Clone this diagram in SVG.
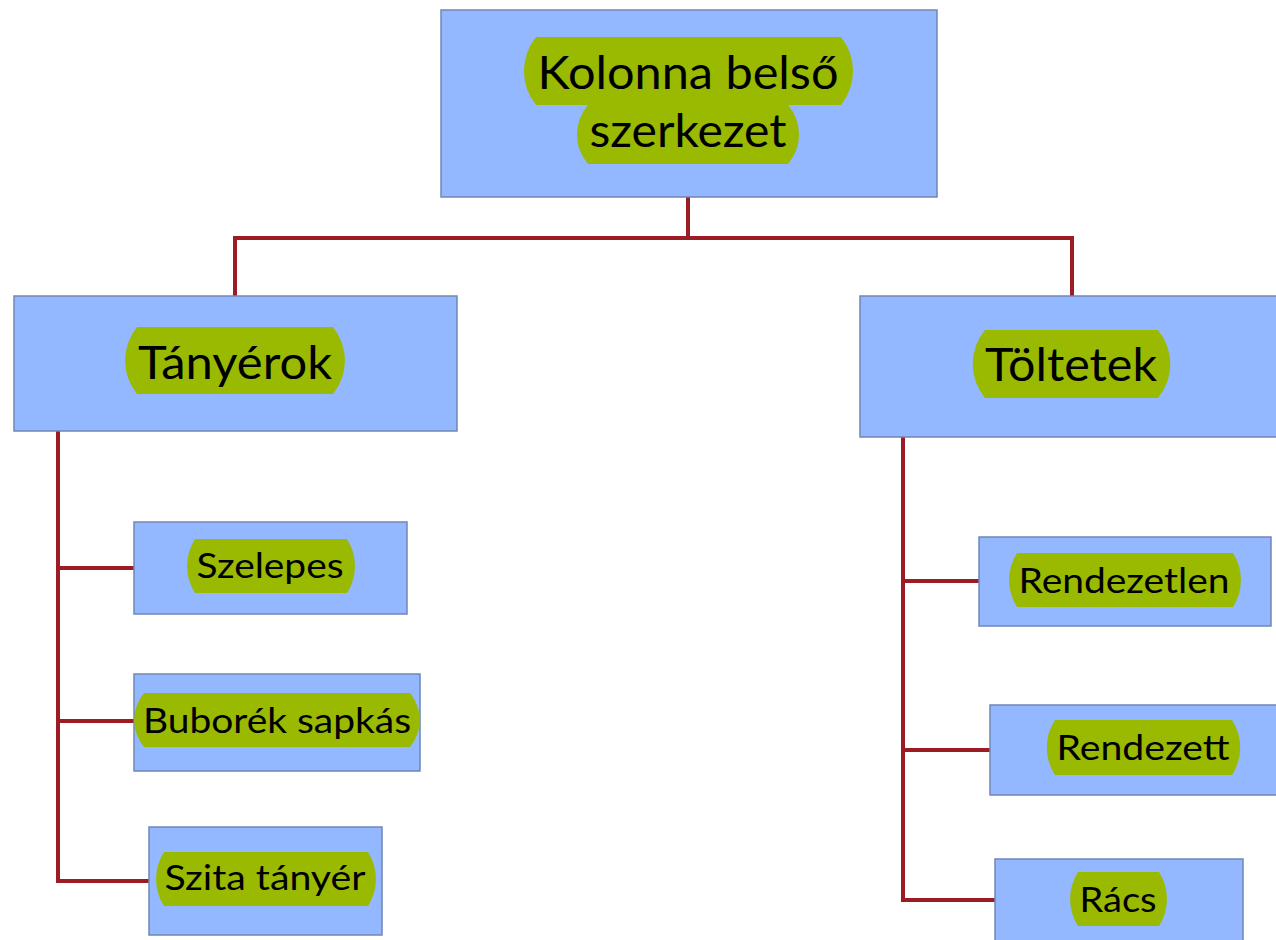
<svg xmlns="http://www.w3.org/2000/svg" width="1276" height="940" viewBox="0 0 1276 940">
<style>
.box{fill:#94B8FF;stroke:#6F86B6;stroke-width:1.5}
.pill{fill:#99BA00}
.t{font-family:Lato,"Liberation Sans",sans-serif;fill:#000;text-anchor:middle}
.big{font-size:47px}
.sm{font-size:35px}
.c{fill:none;stroke:#9B1C24;stroke-width:4;stroke-linecap:square}
</style>
<rect width="1276" height="940" fill="#fff"/>
<g id="connectors">
<path class="c" d="M688,197 V238 M235,238 H1072 M235,238 V296 M1072,238 V296"/>
<path class="c" d="M58,431 V881 M58,568 H134 M58,721 H134 M58,881 H149"/>
<path class="c" d="M903,437 V900 M903,581 H979 M903,750 H990 M903,900 H995"/>
</g>
<g id="root">
<rect class="box" x="441" y="10" width="496" height="187"/>
<path class="pill" d="M536,37 H841 A54 54 0 0 1 841,105 H536 A54 54 0 0 1 536,37 Z"/>
<path class="pill" d="M588,105 H788 A45 45 0 0 1 788,164 H588 A45 45 0 0 1 588,105 Z"/>
<text class="t big" x="688" y="89" textLength="301" lengthAdjust="spacingAndGlyphs">Kolonna belső</text>
<text class="t big" x="688" y="147" textLength="197" lengthAdjust="spacingAndGlyphs">szerkezet</text>
</g>
<g id="tanyerok">
<rect class="box" x="14" y="296" width="443" height="135"/>
<path class="pill" d="M137,327 H333 A53 53 0 0 1 333,394 H137 A53 53 0 0 1 137,327 Z"/>
<text class="t big" x="235" y="379" textLength="194" lengthAdjust="spacingAndGlyphs">Tányérok</text>
</g>
<g id="toltetek">
<rect class="box" x="860" y="296" width="420" height="141"/>
<path class="pill" d="M985,330 H1158 A53 53 0 0 1 1158,398 H985 A53 53 0 0 1 985,330 Z"/>
<text class="t big" x="1071" y="381" textLength="172" lengthAdjust="spacingAndGlyphs">Töltetek</text>
</g>
<g id="szelepes">
<rect class="box" x="134" y="522" width="273" height="92"/>
<path class="pill" d="M195,539 H347 A50 50 0 0 1 347,593 H195 A50 50 0 0 1 195,539 Z"/>
<text class="t sm" x="270" y="578" textLength="147" lengthAdjust="spacingAndGlyphs">Szelepes</text>
</g>
<g id="buborek">
<rect class="box" x="134" y="674" width="286" height="97"/>
<path class="pill" d="M144,693 H410 A42 42 0 0 1 410,747 H144 A42 42 0 0 1 144,693 Z"/>
<text class="t sm" x="277" y="733" textLength="268" lengthAdjust="spacingAndGlyphs">Buborék sapkás</text>
</g>
<g id="szita">
<rect class="box" x="149" y="827" width="233" height="108"/>
<path class="pill" d="M164,852 H368 A50 50 0 0 1 368,906 H164 A50 50 0 0 1 164,852 Z"/>
<text class="t sm" x="265" y="890" textLength="201" lengthAdjust="spacingAndGlyphs">Szita tányér</text>
</g>
<g id="rendezetlen">
<rect class="box" x="979" y="537" width="292" height="89"/>
<path class="pill" d="M1017,553 H1233 A50 50 0 0 1 1233,607 H1017 A50 50 0 0 1 1017,553 Z"/>
<text class="t sm" x="1124" y="593" textLength="211" lengthAdjust="spacingAndGlyphs">Rendezetlen</text>
</g>
<g id="rendezett">
<rect class="box" x="990" y="705" width="290" height="90"/>
<path class="pill" d="M1055,720 H1232 A50 50 0 0 1 1232,775 H1055 A50 50 0 0 1 1055,720 Z"/>
<text class="t sm" x="1143" y="760" textLength="173" lengthAdjust="spacingAndGlyphs">Rendezett</text>
</g>
<g id="racs">
<rect class="box" x="995" y="859" width="248" height="90"/>
<path class="pill" d="M1078,872 H1159 A50 50 0 0 1 1159,926 H1078 A50 50 0 0 1 1078,872 Z"/>
<text class="t sm" x="1118" y="912" textLength="77" lengthAdjust="spacingAndGlyphs">Rács</text>
</g>
</svg>
